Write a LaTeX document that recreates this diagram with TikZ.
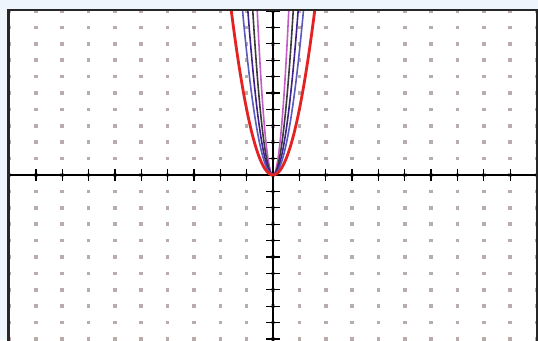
\documentclass[tikz,border=0pt]{standalone}
\definecolor{bgblue}{HTML}{EEF5FC}
\definecolor{dotgray}{HTML}{B8ACAC}
\definecolor{cred}{HTML}{E42222}
\definecolor{cblue}{HTML}{5A5ABE}
\definecolor{cindigo}{HTML}{40208A}
\definecolor{cdark}{HTML}{3A3A3A}
\definecolor{corchid}{HTML}{C45AC4}
\tikzset{
  dotsq/.style={fill=dotgray, draw=none},
  axisline/.style={line width=1.3pt, black},
  tickline/.style={line width=1.3pt, black},
  curve/.style={line width=1.6pt, line join=round},
}
\begin{document}
\begin{tikzpicture}[x=1pt,y=1pt]
\useasboundingbox (0,0) rectangle (538,340);
\fill[bgblue] (0,0) rectangle (538,340);
\begin{scope}[shift={(273,165)}, x=26.35pt, y=16.4pt]
  \coordinate (fsw) at (-10.04,-10.4);
  \coordinate (fne) at (10.02,10.05);
  \fill[white] (fsw) rectangle (fne);
  \begin{scope}
    \clip (fsw) rectangle (fne);
    % grid dots
    \foreach \i in {-10,...,10} {
      \foreach \j in {-10,...,10} {
        \fill[dotsq] ([xshift=-1.8pt,yshift=-1.8pt]\i,\j) rectangle ([xshift=1.8pt,yshift=1.8pt]\i,\j);
      }
    }
    % axes
    \coordinate (xl) at (-10.2,0);
    \coordinate (xr) at (10.2,0);
    \coordinate (yb) at (0,-10.5);
    \coordinate (yt) at (0,10.2);
    \draw[axisline] (xl) -- (xr);
    \draw[axisline] (yb) -- (yt);
    \foreach \i in {-10,...,10} {
      \draw[tickline] ([yshift=-6pt]\i,0) -- ([yshift=6pt]\i,0);
    }
    \foreach \j in {-10,...,10} {
      \draw[tickline] ([xshift=-7pt]0,\j) -- ([xshift=7pt]0,\j);
    }
    % parabolas
    \draw[curve, corchid] plot[domain=-0.62:0.62, samples=60] (\x,{28*\x*\x});
    \draw[curve, cdark] plot[domain=-0.8:0.8, samples=60] (\x,{17*\x*\x});
    \draw[curve, cindigo] plot[domain=-1.0:1.0, samples=60] (\x,{11*\x*\x});
    \draw[curve, cblue] plot[domain=-1.2:1.2, samples=60] (\x,{7.5*\x*\x});
    \draw[curve, cred, line width=2.8pt] plot[domain=-1.65:1.65, samples=80] (\x,{4*\x*\x});
  \end{scope}
  \draw[line width=2.4pt, black!85] (fsw) rectangle (fne);
\end{scope}
\end{tikzpicture}
\end{document}
